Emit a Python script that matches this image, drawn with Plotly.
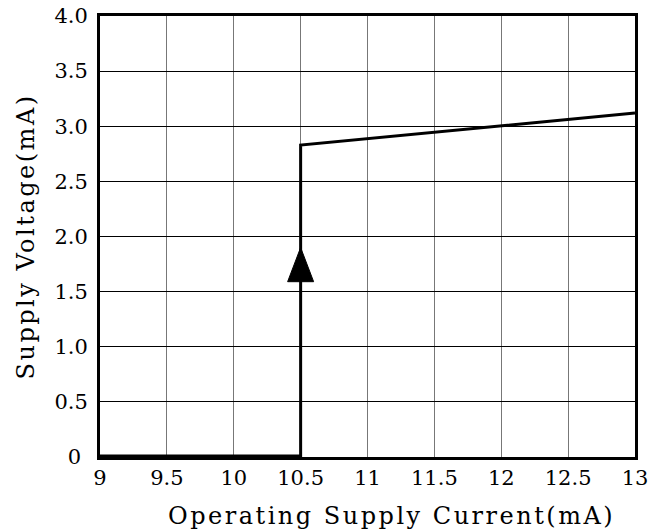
import plotly.graph_objects as go

# Data
current_ma = [9.0, 10.5, 10.5, 13.0]
voltage = [0.01, 0.01, 2.83, 3.12]
arrow_x = 10.5
arrow_tip_y = 1.90
arrow_base_y = 1.59

x_ticks = [9, 9.5, 10, 10.5, 11, 11.5, 12, 12.5, 13]
x_tick_labels = ["9", "9.5", "10", "10.5", "11", "11.5", "12", "12.5", "13"]
y_ticks = [0, 0.5, 1.0, 1.5, 2.0, 2.5, 3.0, 3.5, 4.0]
y_tick_labels = ["0\u00a0", "0.5", "1.0", "1.5", "2.0", "2.5", "3.0", "3.5", "4.0"]
x_title = "Operating Supply Current(mA)"
y_title = "Supply Voltage(mA)"

W, H = 651, 529
ML, MR, MT, MB = 100, 16, 16, 72
x_range = [9, 13]
y_range = [0, 4]
px_per_x = (W - ML - MR) / (x_range[1] - x_range[0])
arrow_half_w = 13 / px_per_x

FONT = "DejaVu Serif"
TICK_SIZE = 21
TITLE_SIZE = 24


def spaced(t, ls):
    return f'<span style="letter-spacing:{ls}px">{t}</span>'


fig = go.Figure()
fig.add_trace(go.Scatter(
    x=current_ma, y=voltage, mode="lines",
    line=dict(color="black", width=3), hoverinfo="skip", showlegend=False,
))
fig.add_trace(go.Scatter(
    x=[arrow_x - arrow_half_w, arrow_x, arrow_x + arrow_half_w, arrow_x - arrow_half_w],
    y=[arrow_base_y, arrow_tip_y, arrow_base_y, arrow_base_y],
    mode="lines", fill="toself", fillcolor="black",
    line=dict(color="black", width=1), hoverinfo="skip", showlegend=False,
))

fig.update_layout(
    width=W, height=H,
    margin=dict(l=ML, r=MR, t=MT, b=MB, autoexpand=False),
    paper_bgcolor="white", plot_bgcolor="white",
    font=dict(family=FONT, color="black", size=TICK_SIZE),
    xaxis=dict(
        range=x_range, tickmode="array", tickvals=x_ticks, ticktext=x_tick_labels,
        showgrid=True, gridcolor="#777777", gridwidth=1,
        showline=True, linecolor="black", linewidth=3, mirror=True,
        ticks="", ticklabelstandoff=0, zeroline=False, automargin=False,
        ticklabeloverflow="allow",
        tickfont=dict(family=FONT, size=TICK_SIZE),
    ),
    yaxis=dict(
        range=y_range, tickmode="array", tickvals=y_ticks, ticktext=y_tick_labels,
        showgrid=True, gridcolor="black", gridwidth=1,
        showline=True, linecolor="black", linewidth=3, mirror=True,
        ticks="", ticklabelstandoff=5, zeroline=False, automargin=False,
        ticklabeloverflow="allow",
        tickfont=dict(family=FONT, size=TICK_SIZE),
    ),
    annotations=[
        dict(text=spaced(x_title, 2.5), xref="paper", yref="paper",
             x=0.544, y=0, yshift=-59, xanchor="center", yanchor="middle",
             showarrow=False, font=dict(family=FONT, size=TITLE_SIZE, color="black")),
        dict(text=spaced(y_title, 2.5), xref="paper", yref="paper",
             x=0, y=0.5, xshift=-75, xanchor="center", yanchor="middle",
             textangle=-90, showarrow=False,
             font=dict(family=FONT, size=TITLE_SIZE, color="black")),
    ],
)

fig.write_html(
    "out.html",
    config={"displayModeBar": False},
    post_script="document.body.style.margin='0';document.body.style.overflow='hidden';",
)
